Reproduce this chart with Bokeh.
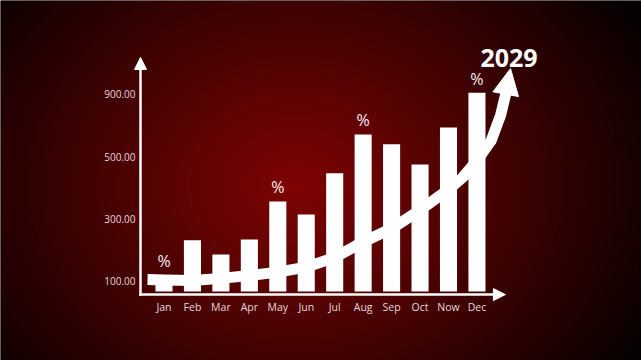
import numpy as np
from bokeh.plotting import figure
from bokeh.models import Range1d, Arrow, NormalHead
from bokeh.core.properties import value
from bokeh.embed import file_html
from bokeh.resources import INLINE

# ---------------- data ----------------
months = ["Jan", "Feb", "Mar", "Apr", "May", "Jun", "Jul", "Aug", "Sep", "Oct", "Now", "Dec"]
sales = [120, 232, 187, 235, 357, 315, 447, 572, 540, 475, 594, 706]
bar_base = 68
pct_months = ["Jan", "May", "Aug", "Dec"]
y_tick_pos = [100, 300, 500, 700]
y_tick_labels = ["100.00", "300.00", "500.00", "900.00"]
# growth-arrow centreline (x in month index, y in axis units); last point is the arrow tip
trend_x = [-0.58, 0, 1, 2, 3, 4, 5, 6, 7, 8, 9, 10, 10.5, 11, 11.5, 11.83, 12.02, 12.18]
trend_y = [106, 105, 103, 110, 119, 130, 146, 177, 227, 270, 329, 395, 434, 488, 552, 633, 705, 783]
year_label = "2029"

# ---------------- layout constants ----------------
W, H = 641, 360
X0, X1 = -5.747, 16.784
Y0, Y1 = -153.5, 1001.6
axis_x = -0.826
axis_y = 58
y_axis_top = 819
x_axis_end = 12.0
label_x = -1.0
month_y = 16.6
FONT = "Open Sans"
TXT = "#e6d6d6"

p = figure(width=W, height=H, x_range=Range1d(X0, X1), y_range=Range1d(Y0, Y1),
           output_backend="svg", toolbar_location=None,
           x_axis_location=None, y_axis_location=None, min_border=0)
p.grid.visible = False
p.outline_line_color = None
p.background_fill_color = "black"
p.border_fill_color = "black"

# radial dark-red background
yy, xx = np.mgrid[0:H, 0:W]
r = np.sqrt(((xx - 295) / 400.0) ** 2 + ((yy - 185) / 330.0) ** 2)
k = np.clip(1 - r, 0, 1) ** 0.95
img = np.empty((H, W), dtype=np.uint32)
view = img.view(dtype=np.uint8).reshape((H, W, 4))
view[..., 0] = (5 + 122 * k).astype(np.uint8)
view[..., 1] = (1 + 3 * k).astype(np.uint8)
view[..., 2] = (1 + 3 * k).astype(np.uint8)
view[..., 3] = 255
img = np.ascontiguousarray(np.flipud(img))
p.image_rgba(image=[img], x=X0, y=Y0, dw=X1 - X0, dh=Y1 - Y0)

idx = list(range(len(months)))

# bars
p.vbar(x=idx, top=sales, bottom=bar_base, width=0.6, fill_color="white", line_color=None)

# growth arrow
p.line(trend_x[:-1], trend_y[:-1], line_width=11, line_color="white",
       line_join="round", line_cap="butt")
p.add_layout(Arrow(end=NormalHead(size=26, fill_color="white", line_color="white", line_width=1),
                   x_start=trend_x[-2], y_start=trend_y[-2], x_end=trend_x[-1], y_end=trend_y[-1],
                   line_alpha=0))

# axes with arrow heads
p.add_layout(Arrow(end=NormalHead(size=12, fill_color="white", line_color="white", line_width=1),
                   x_start=axis_x, y_start=axis_y, x_end=axis_x, y_end=y_axis_top,
                   line_color="white", line_width=2.5, line_cap="square"))
p.add_layout(Arrow(end=NormalHead(size=12, fill_color="white", line_color="white", line_width=1),
                   x_start=axis_x, y_start=axis_y, x_end=x_axis_end, y_end=axis_y,
                   line_color="white", line_width=2.5, line_cap="square"))

# tick labels
p.text(x=[label_x] * len(y_tick_pos), y=y_tick_pos, text=y_tick_labels,
       text_align="right", text_baseline="middle", text_font=value(FONT),
       text_font_size="10px", text_color=TXT)
p.text(x=idx, y=[month_y] * len(months), text=months,
       text_align="center", text_baseline="middle", text_font=value(FONT),
       text_font_size="10.5px", text_color=TXT)

# percent markers
pi = [months.index(m) for m in pct_months]
p.text(x=pi, y=[sales[i] for i in pi], text=["%"] * len(pi), y_offset=-14,
       text_align="center", text_baseline="alphabetic", text_font=value(FONT),
       text_font_size="16px", text_color="#f4eeee")

# year label at arrow tip
p.text(x=[trend_x[-1]], y=[trend_y[-1]], text=[year_label], x_offset=-1.5, y_offset=-11,
       text_align="center", text_baseline="middle", text_font=value(FONT),
       text_font_size="25px", text_font_style="bold", text_color="white")

open("out.html", "w").write(file_html(p, INLINE))
